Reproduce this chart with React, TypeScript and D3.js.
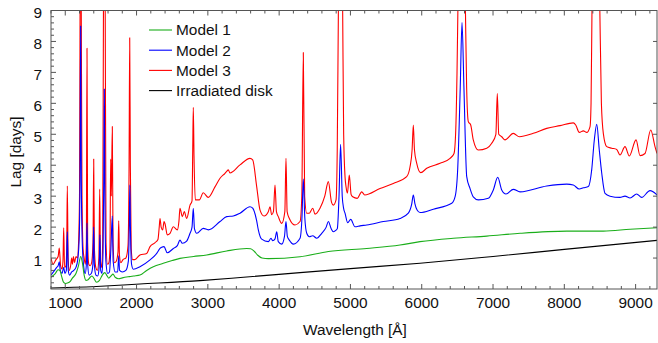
import React from "react";
import * as d3 from "d3";

type P = [number, number];

// Tick values
const xMajorTicks = [1000, 2000, 3000, 4000, 5000, 6000, 7000, 8000, 9000];
const yMajorTicks = [1, 2, 3, 4, 5, 6, 7, 8, 9];

const legendLabels = ["Model 1", "Model 2", "Model 3", "Irradiated disk"];

// Model 3 (red): [wavelength Å, lag days]
const model3: P[] = [
  [800, 1.0], [830, 0.8], [870, 0.95], [900, 1.05], [916, 1.32], [935, 0.75], [955, 0.65], [968, 0.9],
  [978, 1.98], [990, 0.7], [1010, 0.75], [1020, 1.3], [1029, 3.33], [1040, 1.0], [1055, 0.6], [1075, 0.75],
  [1090, 1.0], [1100, 0.8], [1115, 1.05], [1130, 0.85], [1150, 1.05], [1170, 1.0], [1185, 1.4], [1200, 3.0],
  [1208, 9.3], [1216, 15], [1224, 9.3], [1235, 3.0], [1250, 1.3], [1265, 1.0], [1282, 0.8], [1296, 1.5],
  [1305, 7.78], [1314, 1.5], [1330, 0.8], [1350, 0.75], [1370, 0.85], [1389, 1.5], [1399, 4.2], [1409, 1.3],
  [1428, 0.7], [1450, 0.6], [1472, 1.0], [1483, 3.23], [1494, 0.9], [1510, 0.7], [1525, 1.5], [1536, 9.3],
  [1549, 15], [1560, 9.3], [1572, 1.5], [1592, 0.8], [1612, 0.85], [1627, 1.3], [1637, 4.2], [1646, 3.0],
  [1660, 5.25], [1670, 1.5], [1690, 0.85], [1715, 0.9], [1740, 1.2], [1750, 2.2], [1760, 1.1], [1780, 0.85],
  [1810, 0.95], [1850, 1.0], [1880, 1.4], [1895, 4.0], [1904, 8.12], [1913, 4.0], [1925, 1.3], [1945, 0.95],
  [1975, 0.95], [2048, 1.1], [2142, 1.15], [2189, 1.37], [2260, 1.5], [2300, 1.6], [2318, 2.0], [2329, 2.28],
  [2345, 2.0], [2367, 1.91], [2385, 2.18], [2400, 2.1], [2431, 1.75], [2470, 1.8], [2516, 2.01], [2572, 1.91],
  [2595, 2.2], [2609, 2.61], [2642, 2.34], [2670, 2.5], [2703, 2.28], [2750, 2.71], [2778, 2.85], [2788, 4.5],
  [2796, 5.87], [2806, 4.3], [2824, 2.88], [2880, 2.88], [2936, 3.11], [3006, 2.96], [3100, 3.3], [3171, 3.58],
  [3241, 3.74], [3264, 3.8], [3287, 3.85], [3310, 3.75], [3451, 4.01], [3591, 4.22], [3629, 4.17], [3685, 3.31],
  [3732, 2.55], [3788, 2.36], [3848, 2.5], [3872, 2.66], [3895, 2.4], [3920, 2.5], [3942, 3.36], [3962, 2.5],
  [3988, 2.34], [4036, 2.12], [4080, 2.5], [4096, 4.22], [4112, 2.5], [4143, 2.28], [4223, 2.07], [4293, 2.18],
  [4318, 3.0], [4339, 7.64], [4358, 3.0], [4387, 2.45], [4423, 2.45], [4471, 2.61], [4503, 2.42], [4573, 2.61],
  [4640, 3.0], [4690, 3.47], [4735, 2.8], [4760, 2.71], [4798, 2.88], [4815, 4.5], [4832, 9.3], [4861, 14],
  [4890, 9.3], [4905, 5.0], [4925, 3.6], [4938, 3.31], [4958, 3.1], [4984, 3.68], [5010, 3.05], [5032, 2.98],
  [5096, 2.93], [5158, 3.14], [5200, 3.04], [5415, 3.25], [5601, 3.41], [5789, 3.63], [5836, 3.95], [5865, 4.5],
  [5882, 5.3], [5898, 4.5], [5930, 4.06], [5986, 3.76], [6070, 3.9], [6257, 4.06], [6397, 4.22], [6453, 4.38],
  [6475, 5.0], [6495, 7.0], [6510, 9.5], [6560, 15], [6610, 9.5], [6630, 6.5], [6653, 5.41], [6687, 5.3],
  [6723, 4.82], [6794, 4.49], [6912, 4.55], [6982, 4.71], [7040, 5.0], [7060, 6.32], [7080, 5.0], [7122, 4.92],
  [7168, 4.82], [7285, 5.03], [7369, 4.92], [7565, 5.03], [7753, 5.19], [7940, 5.28], [8126, 5.37], [8160, 5.3],
  [8210, 5.06], [8267, 5.11], [8314, 5.06], [8361, 5.25], [8375, 6.0], [8390, 9.5], [8446, 15], [8495, 9.5],
  [8520, 6.0], [8547, 5.03], [8595, 4.6], [8665, 4.55], [8735, 4.51], [8781, 4.33], [8851, 4.6], [8912, 4.3],
  [9006, 4.82], [9062, 4.31], [9132, 4.38], [9212, 5.14], [9272, 4.6], [9300, 4.38],
];

// Model 2 (blue)
const model2: P[] = [
  [800, 0.45], [850, 0.6], [880, 0.7], [900, 0.75], [916, 0.88], [930, 0.6], [955, 0.5], [978, 0.7],
  [995, 0.5], [1015, 0.6], [1029, 1.85], [1042, 0.6], [1060, 0.45], [1090, 0.55], [1120, 0.6], [1150, 0.7],
  [1175, 0.95], [1195, 1.6], [1207, 3.5], [1216, 8.5], [1225, 3.5], [1240, 1.4], [1260, 0.7], [1280, 0.5],
  [1296, 0.8], [1305, 2.13], [1314, 0.8], [1335, 0.45], [1365, 0.5], [1388, 0.8], [1398, 2.0], [1408, 0.8],
  [1430, 0.45], [1455, 0.42], [1475, 0.7], [1486, 1.75], [1497, 0.6], [1515, 0.5], [1530, 1.2], [1540, 3.5],
  [1548, 6.46], [1556, 3.0], [1570, 0.9], [1595, 0.5], [1620, 0.55], [1640, 1.3], [1660, 2.36], [1672, 0.9],
  [1700, 0.55], [1735, 0.55], [1750, 1.07], [1762, 0.6], [1800, 0.55], [1850, 0.6], [1885, 0.9], [1898, 2.0],
  [1906, 3.36], [1914, 2.0], [1930, 0.8], [1954, 0.64], [2048, 0.72], [2189, 0.94], [2283, 1.15], [2329, 1.31],
  [2353, 1.35], [2385, 1.37], [2431, 1.17], [2516, 1.31], [2572, 1.4], [2609, 1.58], [2642, 1.48], [2703, 1.55],
  [2750, 1.8], [2778, 2.0], [2796, 2.61], [2812, 1.95], [2844, 1.8], [2936, 1.96], [3006, 1.91], [3171, 2.18],
  [3264, 2.34], [3357, 2.36], [3451, 2.45], [3591, 2.66], [3629, 2.61], [3685, 2.2], [3708, 1.91], [3755, 1.61],
  [3848, 1.53], [3886, 1.64], [3910, 1.56], [3942, 1.62], [3966, 1.85], [3988, 1.53], [4036, 1.45], [4075, 1.7],
  [4096, 2.18], [4115, 1.7], [4143, 1.58], [4199, 1.45], [4293, 1.64], [4320, 2.3], [4339, 3.55], [4360, 2.3],
  [4387, 1.8], [4423, 1.69], [4471, 1.72], [4527, 1.64], [4597, 1.8], [4660, 2.0], [4690, 2.18], [4730, 1.95],
  [4760, 1.85], [4798, 1.9], [4816, 1.95], [4840, 3.0], [4862, 4.68], [4885, 3.0], [4905, 2.6], [4924, 2.45],
  [4962, 2.14], [5004, 2.25], [5064, 2.01], [5134, 2.04], [5228, 2.07], [5461, 2.18], [5695, 2.28], [5812, 2.45],
  [5860, 2.75], [5882, 3.04], [5905, 2.75], [5935, 2.55], [5976, 2.47], [6163, 2.58], [6421, 2.77], [6470, 3.0],
  [6505, 3.9], [6540, 6.5], [6565, 8.61], [6592, 6.5], [6631, 3.63], [6677, 3.25], [6723, 2.98], [6794, 2.88],
  [6934, 2.93], [7004, 3.2], [7066, 3.61], [7122, 3.2], [7182, 3.07], [7285, 3.22], [7379, 3.14], [7753, 3.33],
  [8034, 3.39], [8126, 3.36], [8210, 3.23], [8267, 3.27], [8337, 3.31], [8384, 3.85], [8420, 4.8], [8455, 5.32],
  [8490, 4.5], [8525, 3.74], [8571, 3.09], [8641, 3.0], [8781, 2.96], [8851, 3.0], [8922, 2.94], [9015, 3.07],
  [9085, 2.96], [9202, 3.18], [9300, 3.04],
];

// Model 1 (green)
const model1: P[] = [
  [800, 0.38], [860, 0.5], [900, 0.62], [925, 0.6], [950, 0.4], [975, 0.22], [1000, 0.18], [1040, 0.2],
  [1070, 0.25], [1100, 0.35], [1150, 0.5], [1185, 0.75], [1217, 1.05], [1240, 0.85], [1265, 0.45], [1290, 0.28],
  [1320, 0.3], [1350, 0.38], [1375, 0.42], [1400, 0.35], [1440, 0.22], [1480, 0.28], [1520, 0.45], [1555, 0.53],
  [1580, 0.45], [1610, 0.35], [1640, 0.42], [1670, 0.48], [1700, 0.38], [1750, 0.33], [1800, 0.36], [1900, 0.4],
  [1960, 0.42], [2048, 0.45], [2142, 0.6], [2235, 0.72], [2375, 0.83], [2500, 0.92], [2609, 0.99], [2800, 1.05],
  [2984, 1.1], [3264, 1.23], [3545, 1.31], [3600, 1.3], [3650, 1.22], [3700, 1.09], [3760, 1.0], [3850, 0.98],
  [4293, 1.04], [4690, 1.21], [5228, 1.31], [5695, 1.42], [5976, 1.53], [6443, 1.64], [6912, 1.71], [7379, 1.8],
  [8034, 1.87], [8547, 1.87], [8922, 1.93], [9300, 1.98],
];

// Irradiated disk (black)
const diskLag: P[] = [
  [800, 0.03], [1500, 0.09], [2048, 0.16], [2890, 0.27], [3500, 0.38], [4293, 0.53], [5000, 0.66],
  [5976, 0.83], [7000, 1.05], [8000, 1.28], [9300, 1.57],
];

const seriesOrder = [
  { data: model3, color: "#ff0000" },
  { data: model2, color: "#0000ff" },
  { data: model1, color: "#1aae1a" },
  { data: diskLag, color: "#000000" },
];
const legendColors = ["#1aae1a", "#0000ff", "#ff0000", "#000000"];

export default function App() {
  const W = 658;
  const H = 343;
  const left = 51, right = 657, top = 10.5, bottom = 289;
  const x = d3.scaleLinear().domain([800, 9300]).range([left, right]);
  const y = d3.scaleLinear().domain([0, 9]).range([bottom, top]);
  const line = d3
    .line<P>()
    .x((d) => x(d[0]))
    .y((d) => y(d[1]))
    .curve(d3.curveMonotoneX);

  const minorX = d3.range(800, 9301, 200).filter((v) => v % 1000 !== 0);
  const minorY = d3
    .range(1, 45)
    .map((i) => i * 0.2)
    .filter((v) => Math.abs(v - Math.round(v)) > 1e-6);

  const font = "'Liberation Sans', Arial, sans-serif";
  const fs = 15.4;
  const axisColor = "#555";

  return (
    <svg
      width={W}
      height={H}
      style={{ position: "absolute", left: 0, top: 0, background: "#fff" }}
      fontFamily={font}
    >
      <defs>
        <clipPath id="plotClip">
          <rect x={left} y={top} width={right - left} height={bottom - top} />
        </clipPath>
      </defs>
      <rect x={0} y={0} width={W} height={H} fill="#fff" />

      <g clipPath="url(#plotClip)">
        {seriesOrder.map((s, i) => (
          <path key={i} d={line(s.data) || ""} fill="none" stroke={s.color} strokeWidth={1.1} strokeLinejoin="round" />
        ))}
      </g>

      {/* ticks */}
      <g stroke={axisColor} strokeWidth={1}>
        {xMajorTicks.map((t) => (
          <g key={"xm" + t}>
            <line x1={x(t)} x2={x(t)} y1={bottom} y2={bottom - 5} />
            <line x1={x(t)} x2={x(t)} y1={top} y2={top + 5} />
          </g>
        ))}
        {minorX.map((t) => (
          <g key={"xn" + t}>
            <line x1={x(t)} x2={x(t)} y1={bottom} y2={bottom - 3} />
            <line x1={x(t)} x2={x(t)} y1={top} y2={top + 3} />
          </g>
        ))}
        {yMajorTicks.map((t) => (
          <g key={"ym" + t}>
            <line x1={left} x2={left + 5} y1={y(t)} y2={y(t)} />
            <line x1={right} x2={right - 4} y1={y(t)} y2={y(t)} />
          </g>
        ))}
        {minorY.map((t, i) => (
          <line key={"yn" + i} x1={left} x2={left + 3} y1={y(t)} y2={y(t)} />
        ))}
      </g>

      {/* frame */}
      <rect x={left} y={top} width={right - left} height={bottom - top} fill="none" stroke={axisColor} strokeWidth={1} />

      {/* tick labels */}
      <g fontSize={fs} fill="#111">
        {xMajorTicks.map((t) => (
          <text key={"xl" + t} x={x(t)} y={307.5} textAnchor="middle">
            {t}
          </text>
        ))}
        {yMajorTicks.map((t) => (
          <text key={"yl" + t} x={42} y={y(t) + 7.5} textAnchor="end">
            {t}
          </text>
        ))}
      </g>

      {/* axis titles */}
      <text x={355} y={335} textAnchor="middle" fontSize={fs} fill="#111">
        Wavelength [Å]
      </text>
      <text transform="translate(20.5,152) rotate(-90)" textAnchor="middle" fontSize={fs} fill="#111">
        Lag [days]
      </text>

      {/* legend */}
      <g fontSize={fs} fill="#111">
        {legendLabels.map((lab, i) => (
          <g key={lab}>
            <line x1={149} x2={172} y1={30 + i * 20.2} y2={30 + i * 20.2} stroke={legendColors[i]} strokeWidth={1.1} />
            <text x={176} y={35.3 + i * 20.2}>
              {lab}
            </text>
          </g>
        ))}
      </g>
    </svg>
  );
}
